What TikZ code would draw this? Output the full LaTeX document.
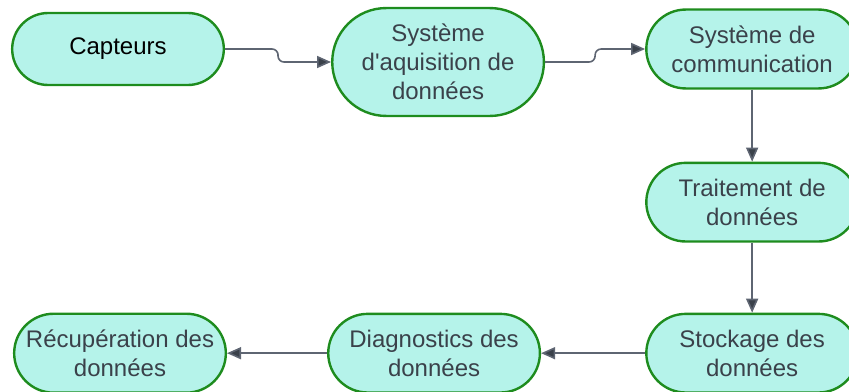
\documentclass[tikz,border=0pt]{standalone}
\usepackage{fontspec}
\setmainfont{Liberation Sans}
\usetikzlibrary{positioning, arrows.meta, shapes.misc}

\definecolor{boxfill}{HTML}{B5F3EA}
\definecolor{boxline}{HTML}{1E8C1E}
\definecolor{txtgray}{HTML}{3A414A}
\definecolor{wiregray}{HTML}{5E6572}

\begin{document}
\begin{tikzpicture}[
		font=\fontsize{12}{14.5}\selectfont,
		% Node Styles
		stage/.style={rounded rectangle, draw=boxline, fill=boxfill, line width=1.2pt, minimum width=112.5pt, minimum height=36pt, inner ysep=8pt, align=center, text=txtgray},
		% Edge Styles
		flow/.style={-{Triangle[length=7pt, width=6pt, fill=txtgray]}, draw=wiregray, line width=0.8pt, rounded corners=3pt}
		]
		
		\useasboundingbox (0,0) rectangle (424.5pt,-195.5pt);
		
		% --- TOP ROW ---
		\node[stage, text=black] (Capteurs) at (59pt,-24.5pt) {Capteurs};
		\node[stage, right=53pt of Capteurs, yshift=-6.5pt] (Acquisition) {Système\\d\textquotesingle aquisition de\\données};
		\node[stage, right=50pt of Acquisition, yshift=6.5pt] (Comm) {Système de\\communication};
		
		% --- RIGHT COLUMN ---
		\node[stage, below=36pt of Comm] (Traitement) {Traitement de\\données};
		\node[stage, below=35pt of Traitement] (Stockage) {Stockage des\\données};
		
		% --- BOTTOM ROW ---
		\node[stage, left=52pt of Stockage] (Diagnostics) {Diagnostics des\\données};
		\node[stage, left=50pt of Diagnostics] (Recup) {Récupération des\\données};
		
		% ================= TRANSITIONS =================
		\draw[flow] (Capteurs.east) -- ++(26.5pt,0) |- (Acquisition.west);
		\draw[flow] (Acquisition.east) -- ++(25pt,0) |- (Comm.west);
		\draw[flow] (Comm.south) -- (Traitement.north);
		\draw[flow] (Traitement.south) -- (Stockage.north);
		\draw[flow] (Stockage.west) -- (Diagnostics.east);
		\draw[flow] (Diagnostics.west) -- (Recup.east);
		
	\end{tikzpicture}
\end{document}
